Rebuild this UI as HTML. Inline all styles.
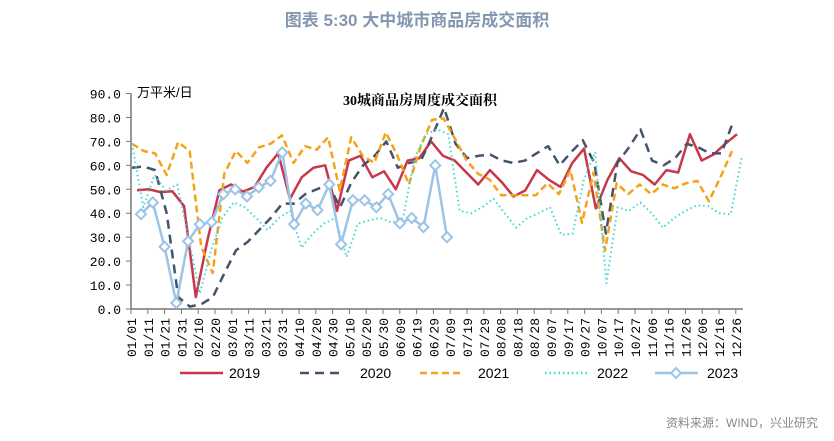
<!DOCTYPE html>
<html><head><meta charset="utf-8"><style>
body{margin:0;background:#fff;width:834px;height:441px;overflow:hidden}
svg{display:block}
</style></head><body>
<svg id="chart" width="834" height="441" viewBox="0 0 834 441" xmlns="http://www.w3.org/2000/svg">
<text x="417" y="26" text-anchor="middle" font-family="Liberation Sans, Noto Sans CJK SC, sans-serif" font-size="17" font-weight="bold" fill="#8497b0">图表 5:30 大中城市商品房成交面积</text>
<text x="420" y="105" text-anchor="middle" font-family="Liberation Serif, Noto Serif CJK SC, serif" font-size="14" font-weight="bold" fill="#000">30城商品房周度成交面积</text>
<text x="137" y="97" font-family="Liberation Sans, Noto Sans CJK SC, sans-serif" font-size="13" fill="#000">万平米/日</text>
<text x="818" y="427" text-anchor="end" font-family="Liberation Sans, Noto Sans CJK SC, sans-serif" font-size="12" fill="#888">资料来源：WIND，兴业研究</text>
<g id="axes"></g><g id="series"></g><g id="legend"></g>
</svg>
<script>
const yTicks=[0,10,20,30,40,50,60,70,80,90];
const xLabels=["01/01","01/11","01/21","01/31","02/10","02/20","03/01","03/11","03/21","03/31","04/10","04/20","04/30","05/10","05/20","05/30","06/09","06/19","06/29","07/09","07/19","07/29","08/08","08/18","08/28","09/07","09/17","09/27","10/07","10/17","10/27","11/06","11/16","11/26","12/06","12/16","12/26"];
const s2019=[49.6,50,48.8,49.2,43,5,29,49.6,52,49,51,59,65,46,55,59,60,41,62,64,55,57.5,50,62,63,70,64,62,57,52,58,53,47,49.5,58,54,51,61,67,42,54,63,57.5,56,52,58,57,73,62,64.5,69,73];
const s2020=[59,59.5,58,40,5,1,2,5,15,24.5,28,33,38,44,44,48,50,52,42.5,53,60,64,70,59,61,62,72.5,84,69,63,64,64.5,62,61,62,65,68,60,65.5,70.5,61,31.5,61,67.5,75,62,60,63,69,67.5,65,65,78];
const s2021=[69,66,65,56,69.7,66,26,15,56.5,66,61,67.5,69,72.5,61,68,66.5,71.7,49.5,71.7,64,61,73.8,64,52,67.5,79,79.6,71,62,56.5,54,47.5,47.5,47.5,47.5,52.5,48,58,36,57,24.5,52.5,48,52,48,52,50.4,52.5,53.5,45,55,66];
const s2022=[69,42.5,56,49.5,52,30,6.5,24.5,38,44.5,42.5,38,33,38,41,25.5,31.5,35.7,38,21.7,35.7,37,38,36,38,63,73,75,73,41,40,42.5,46,40,34,38,40,42.5,31,31.5,54,65.5,10.8,42.5,41,44.5,40,34,38,41,43.3,43,40,39.5,64];
const s2023=[39.6,44.5,26,2.5,28.3,35.4,36.3,48,50,47,50.8,53.5,65.4,35.4,44,41.3,52,27,45.4,45.4,42.5,48,35.8,38,34.2,60,30];
const NS='http://www.w3.org/2000/svg';
const X0=131,X1=743,Y0=309,YTOP=93.5;
function yScale(v){return Y0-(v/90)*(Y0-YTOP);}
function xTick(i){return X0+i*16.8;}
function xPt(i,n,start,end){return start+i*(end-start)/(n-1);}
function mk(tag,attrs,parent){const e=document.createElementNS(NS,tag);for(const k in attrs)e.setAttribute(k,attrs[k]);parent.appendChild(e);return e;}
const axes=document.getElementById('axes');
let ya=mk('line',{x1:X0,y1:YTOP,x2:X0,y2:Y0,stroke:'#777','stroke-width':1.5},axes);


let xa=mk('line',{x1:X0,y1:Y0,x2:X1,y2:Y0,stroke:'#777','stroke-width':1.5},axes);


yTicks.forEach(v=>{const y=yScale(v);
 mk('line',{x1:X0-5,y1:y,x2:X0,y2:y,stroke:'#777','stroke-width':1},axes);
 const t=mk('text',{x:X0-10,y:y+5,'text-anchor':'end','font-family':'Liberation Mono, monospace','font-size':13,fill:'#000'},axes);
 t.textContent=v.toFixed(1);
 
 
});
xLabels.forEach((l,i)=>{const x=xTick(i);
 mk('line',{x1:x,y1:Y0,x2:x,y2:Y0+5,stroke:'#777','stroke-width':1},axes);
 const t=mk('text',{transform:`translate(${x+5},${Y0+9}) rotate(-90)`,'text-anchor':'end','font-family':'Liberation Mono, monospace','font-size':13,fill:'#000'},axes);
 t.textContent=l;
 
 
});
const series=document.getElementById('series');
const defs=[
 {d:s2019,c:'#c8374a',w:2.5,da:'',s:137,e:737,n:'line-2019'},
 {d:s2020,c:'#44546a',w:2.5,da:'9,6',s:132,e:733,n:'line-2020'},
 {d:s2021,c:'#f5a21b',w:2.5,da:'7,4',s:132,e:732,n:'line-2021'},
 {d:s2022,c:'#40d8d0',w:2,da:'1.5,3',s:132,e:742,n:'line-2022'},
 {d:s2023,c:'#9dc3e6',w:2.5,da:'',s:141,e:447,n:'line-2023',m:true}];
defs.forEach(o=>{const pts=o.d.map((v,i)=>[xPt(i,o.d.length,o.s,o.e),yScale(v)]);
 const p=mk('polyline',{points:pts.map(p=>p.join(',')).join(' '),fill:'none',stroke:o.c,'stroke-width':o.w,'stroke-dasharray':o.da,'stroke-linejoin':'round'},series);
 
 
 if(o.m)pts.forEach(q=>{const m=mk('path',{d:`M${q[0]},${q[1]-5}L${q[0]+5},${q[1]}L${q[0]},${q[1]+5}L${q[0]-5},${q[1]}Z`,fill:'#fff',stroke:o.c,'stroke-width':2},series);
  
  });
});
const leg=document.getElementById('legend');
const legItems=[['2019',180,'#c8374a','',229],['2020',300,'#44546a','9,6',360],['2021',420,'#f5a21b','7,4',478],['2022',545,'#40d8d0','1.5,3',597],['2023',655,'#9dc3e6','',707]];
legItems.forEach(([lab,x,c,da,tx])=>{const g=mk('g',{},leg);
 
 
 mk('line',{x1:x,y1:373,x2:x+43,y2:373,stroke:c,'stroke-width':2.5,'stroke-dasharray':da},g);
 if(lab==='2023')mk('path',{d:`M${x+21},368L${x+26},373L${x+21},378L${x+16},373Z`,fill:'#fff',stroke:c,'stroke-width':2},g);
 const t=mk('text',{x:tx,y:378,'font-family':'Liberation Sans, sans-serif','font-size':14,fill:'#000'},g);
 t.textContent=lab;});
</script>
</body></html>
